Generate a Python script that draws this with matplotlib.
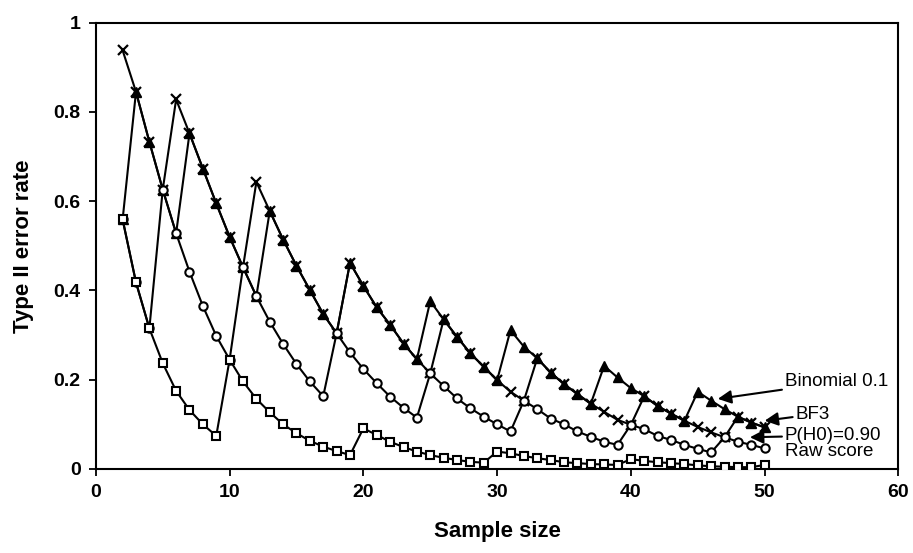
import numpy as np
import matplotlib
matplotlib.use('Agg')
import matplotlib.pyplot as plt

plt.rcParams['font.family'] = ['Liberation Sans', 'DejaVu Sans']

# sample sizes 2..50
sample_size = list(range(2, 51))

binomial = [0.559, 0.845, 0.733, 0.626, 0.528, 0.752, 0.673, 0.595, 0.520, 0.452,
            0.387, 0.578, 0.514, 0.455, 0.401, 0.347, 0.304, 0.462, 0.410, 0.362,
            0.323, 0.281, 0.246, 0.376, 0.335, 0.296, 0.259, 0.229, 0.199, 0.311,
            0.274, 0.248, 0.216, 0.190, 0.168, 0.146, 0.231, 0.205, 0.181, 0.163,
            0.141, 0.124, 0.108, 0.173, 0.153, 0.134, 0.117, 0.104, 0.093]

bf3 = [0.938, 0.845, 0.733, 0.626, 0.828, 0.752, 0.673, 0.595, 0.520, 0.452,
       0.643, 0.578, 0.514, 0.455, 0.401, 0.347, 0.304, 0.462, 0.410, 0.362,
       0.323, 0.281, 0.246, 0.214, 0.335, 0.296, 0.259, 0.229, 0.199, 0.173,
       0.153, 0.248, 0.216, 0.190, 0.168, 0.146, 0.128, 0.110, 0.099, 0.163,
       0.141, 0.124, 0.108, 0.094, 0.082, 0.071, 0.117, 0.104, 0.093]

p_h0 = [0.559, 0.418, 0.315, 0.626, 0.528, 0.442, 0.365, 0.298, 0.245, 0.452,
        0.387, 0.330, 0.280, 0.235, 0.196, 0.163, 0.304, 0.261, 0.224, 0.192,
        0.162, 0.137, 0.115, 0.214, 0.186, 0.158, 0.136, 0.117, 0.100, 0.084,
        0.153, 0.134, 0.113, 0.100, 0.084, 0.072, 0.061, 0.054, 0.099, 0.089,
        0.074, 0.065, 0.054, 0.045, 0.037, 0.071, 0.061, 0.054, 0.046]

raw_score = [0.559, 0.418, 0.315, 0.237, 0.175, 0.132, 0.100, 0.074, 0.245, 0.196,
             0.157, 0.127, 0.100, 0.080, 0.063, 0.050, 0.040, 0.031, 0.091, 0.076,
             0.061, 0.049, 0.039, 0.031, 0.025, 0.020, 0.016, 0.014, 0.039, 0.035,
             0.029, 0.024, 0.020, 0.015, 0.013, 0.011, 0.010, 0.009, 0.022, 0.018,
             0.015, 0.013, 0.011, 0.008, 0.006, 0.005, 0.004, 0.004, 0.009]

fig = plt.figure(figsize=(9.13, 5.53), dpi=100)
ax = fig.add_axes([0.105, 0.152, 0.879, 0.807])

lw = 1.5
ax.plot(sample_size, binomial, color='black', lw=lw, marker='^', ms=7,
        mfc='black', mec='black', zorder=2)
ax.plot(sample_size, bf3, color='black', lw=lw, marker='x', ms=7.5,
        mew=1.6, mec='black', zorder=3)
ax.plot(sample_size, p_h0, color='black', lw=lw, marker='o', ms=6,
        mfc='white', mec='black', mew=1.5, zorder=4)
ax.plot(sample_size, raw_score, color='black', lw=lw, marker='s', ms=5.8,
        mfc='white', mec='black', mew=1.5, zorder=5)

arrow = dict(arrowstyle='-|>', color='black', lw=1.5, mutation_scale=20,
             shrinkA=0, shrinkB=0)
ax.annotate('Binomial 0.1', xy=(46.5, 0.157), xytext=(51.5, 0.195),
            fontsize=13.5, va='center', ha='left', arrowprops=arrow, zorder=6)
ax.annotate('BF3', xy=(50.0, 0.108), xytext=(52.3, 0.122),
            fontsize=13.5, va='center', ha='left', arrowprops=arrow, zorder=6)
ax.annotate('P(H0)=0.90', xy=(48.9, 0.071), xytext=(51.5, 0.075),
            fontsize=13.5, va='center', ha='left', arrowprops=arrow, zorder=6)
ax.text(51.5, 0.038, 'Raw score', fontsize=13.5, va='center', ha='left', zorder=6)

ax.set_xlim(0, 60)
ax.set_ylim(0, 1)
ax.set_xticks(np.arange(0, 61, 10))
ax.set_yticks([0, 0.2, 0.4, 0.6, 0.8, 1.0])
ax.set_yticklabels(['0', '0.2', '0.4', '0.6', '0.8', '1'])
ax.tick_params(direction='out', length=5, width=1.3, labelsize=14, pad=6)
for lab in ax.get_xticklabels() + ax.get_yticklabels():
    lab.set_fontweight('bold')
for sp in ax.spines.values():
    sp.set_linewidth(1.5)

ax.set_xlabel('Sample size', fontsize=16, fontweight='bold', labelpad=14)
ax.set_ylabel('Type II error rate', fontsize=16, fontweight='bold', labelpad=14)

fig.savefig('out.png', dpi=100)
